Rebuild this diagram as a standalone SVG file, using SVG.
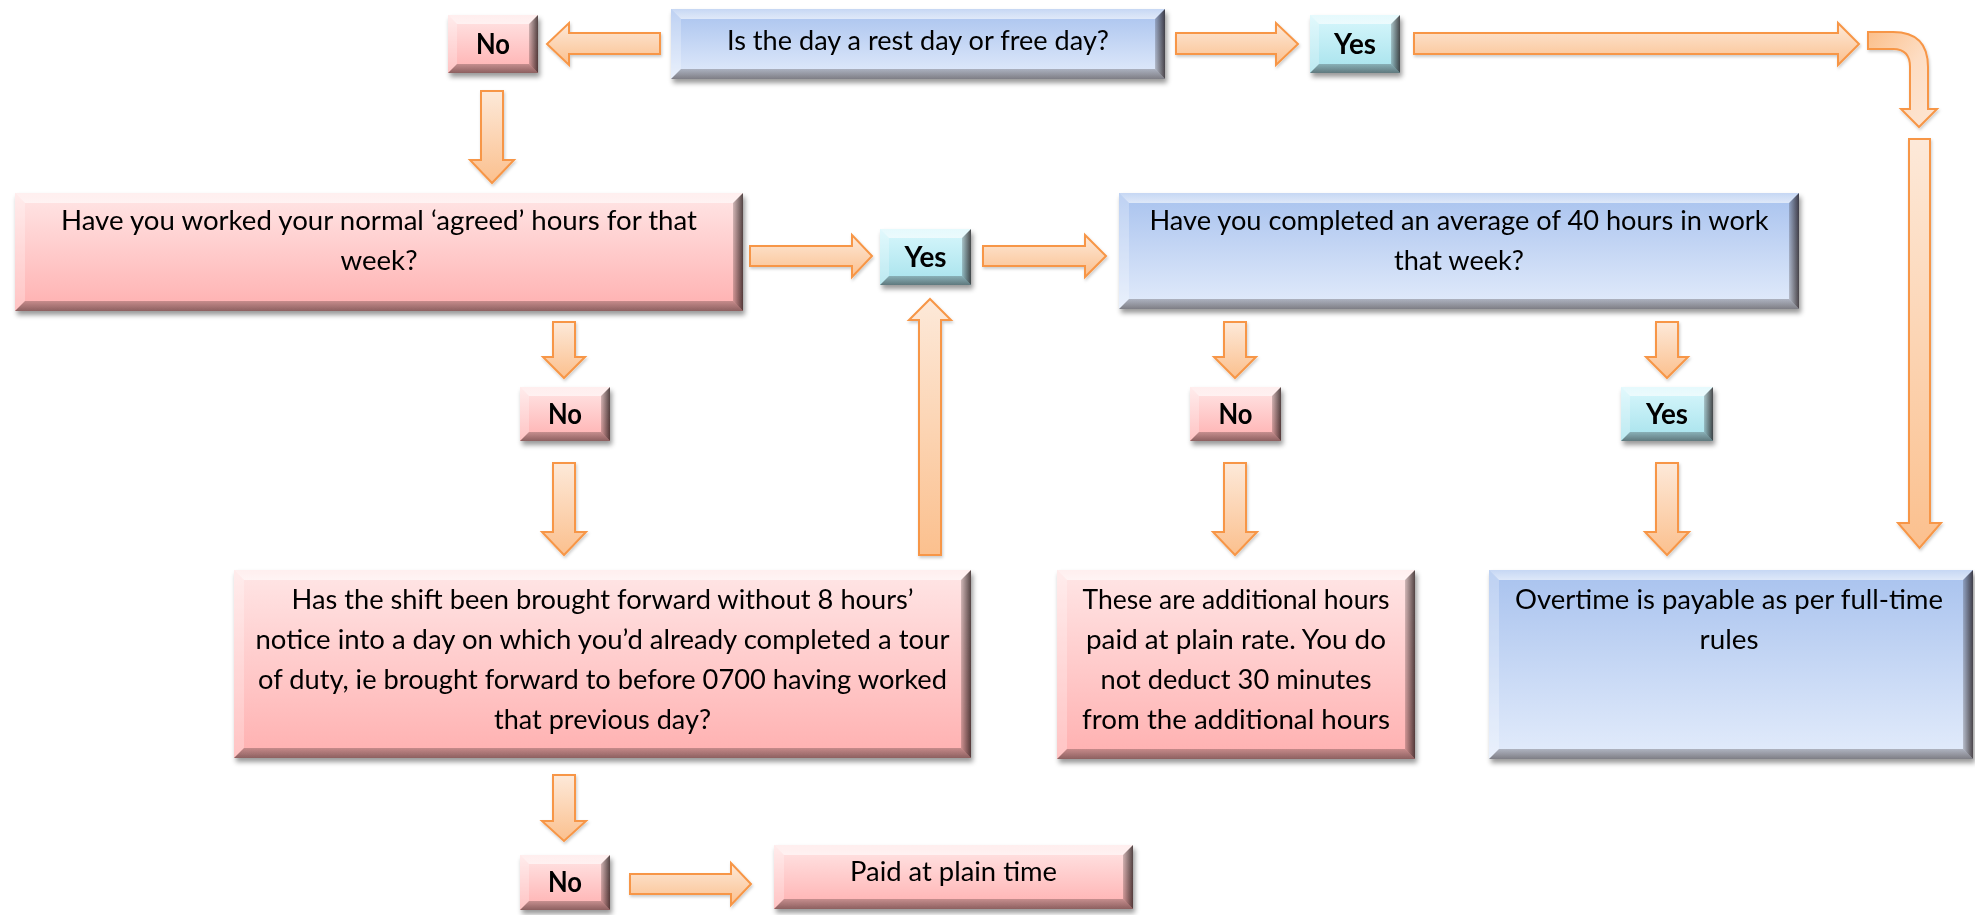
<svg xmlns="http://www.w3.org/2000/svg" width="1975" height="915" viewBox="0 0 1975 915">
<defs>
<linearGradient id="gPink" x1="0" y1="0" x2="0" y2="1"><stop offset="0" stop-color="#ffe6e6"/><stop offset="1" stop-color="#ffb0b0"/></linearGradient>
<linearGradient id="gBlue" x1="0" y1="0" x2="0" y2="1"><stop offset="0" stop-color="#a8c2ee"/><stop offset="1" stop-color="#e3ecfb"/></linearGradient>
<linearGradient id="gCyan" x1="0" y1="0" x2="0" y2="1"><stop offset="0" stop-color="#d8f7fc"/><stop offset="1" stop-color="#a6e2ec"/></linearGradient>
<linearGradient id="gArrow" x1="0" y1="0" x2="0" y2="1"><stop offset="0" stop-color="#fde9d9"/><stop offset="1" stop-color="#fbc08e"/></linearGradient>
<linearGradient id="gBent" x1="0" y1="0" x2="1" y2="1"><stop offset="0" stop-color="#fbbf8b"/><stop offset="0.5" stop-color="#fdddc3"/><stop offset="1" stop-color="#fde6d4"/></linearGradient>
<linearGradient id="gR" x1="0" y1="0" x2="1" y2="0"><stop offset="0" stop-color="#1a1010" stop-opacity="0.2"/><stop offset="1" stop-color="#1a1010" stop-opacity="0.75"/></linearGradient>
<linearGradient id="gB" x1="0" y1="0" x2="0" y2="1"><stop offset="0" stop-color="#1a1010" stop-opacity="0.25"/><stop offset="1" stop-color="#1a1010" stop-opacity="0.5"/></linearGradient>
<linearGradient id="gT" x1="0" y1="0" x2="0" y2="1"><stop offset="0" stop-color="#fff" stop-opacity="0.35"/><stop offset="1" stop-color="#fff" stop-opacity="0.6"/></linearGradient>
<filter id="sh" x="-5%" y="-10%" width="115%" height="135%"><feDropShadow dx="2" dy="4" stdDeviation="2.5" flood-color="#000" flood-opacity="0.4"/></filter>
<filter id="ash" x="-10%" y="-10%" width="130%" height="140%"><feDropShadow dx="1" dy="2" stdDeviation="1.5" flood-color="#000" flood-opacity="0.2"/></filter>
</defs>
<style>
.pink{fill:url(#gPink)}
.blue{fill:url(#gBlue)}
.cyan{fill:url(#gCyan)}
.ft{fill:url(#gT)}
.fl{fill:#fff;fill-opacity:.25}
.fr{fill:url(#gR)}
.fb{fill:url(#gB)}
.box{filter:url(#sh)}
.t{font-family:Lato,"Liberation Sans",sans-serif;font-size:27px;fill:#000;text-anchor:middle}
.b{font-family:Lato,"Liberation Sans",sans-serif;font-size:28px;font-weight:700;fill:#000;text-anchor:middle}
.arr{fill:url(#gArrow);stroke:#f79646;stroke-width:2;stroke-linejoin:miter;filter:url(#ash)}
.bent{fill:url(#gBent)}
</style>

<g id="connectors">
<path class="arr" d="M660,33 L569,33 L569,23 L547,44 L569,65 L569,54 L660,54 Z"/>
<path class="arr" d="M1176,33 L1276,33 L1276,23 L1298,44 L1276,65 L1276,54 L1176,54 Z"/>
<path class="arr" d="M1414,33 L1838,33 L1838,23 L1859,44 L1838,65 L1838,54 L1414,54 Z"/>
<path class="arr bent" d="M1868,32 L1893,32 Q1928,32 1928,67 L1928,109 L1937,109 L1919,127 L1901,109 L1910,109 L1910,67 Q1910,49 1893,49 L1868,49 Z"/>
<path class="arr" d="M1909,139 L1930,139 L1930,523 L1941,523 L1919.5,548 L1898,523 L1909,523 Z"/>
<path class="arr" d="M481,91 L503,91 L503,160 L514,160 L492,183 L470,160 L481,160 Z"/>
<path class="arr" d="M750,246 L852,246 L852,235 L872,256 L852,277 L852,266 L750,266 Z"/>
<path class="arr" d="M983,246 L1085,246 L1085,235 L1106,256 L1085,277 L1085,266 L983,266 Z"/>
<path class="arr" d="M553,322 L575,322 L575,357 L585,357 L564,378 L543,357 L553,357 Z"/>
<path class="arr" d="M553,463 L575,463 L575,532 L586,532 L564,555 L542,532 L553,532 Z"/>
<path class="arr" d="M919,555 L941,555 L941,320 L951,320 L930,299 L909,320 L919,320 Z"/>
<path class="arr" d="M1224,322 L1246,322 L1246,357 L1256,357 L1235,378 L1214,357 L1224,357 Z"/>
<path class="arr" d="M1656,322 L1678,322 L1678,357 L1688,357 L1667,378 L1646,357 L1656,357 Z"/>
<path class="arr" d="M1224,463 L1246,463 L1246,532 L1257,532 L1235,555 L1213,532 L1224,532 Z"/>
<path class="arr" d="M1656,463 L1678,463 L1678,532 L1689,532 L1667,555 L1645,532 L1656,532 Z"/>
<path class="arr" d="M553,775 L575,775 L575,821 L586,821 L564,841 L542,821 L553,821 Z"/>
<path class="arr" d="M630,874 L731,874 L731,863 L751,884 L731,905 L731,894 L630,894 Z"/>
</g>

<g id="no-top" class="box">
<rect class="pink" x="448" y="15" width="90" height="58"/>
<polygon class="ft" points="448,15 538,15 529,24 457,24"/>
<polygon class="fl" points="448,15 457,24 457,64 448,73"/>
<polygon class="fr" points="538,15 538,73 529,64 529,24"/>
<polygon class="fb" points="448,73 457,64 529,64 538,73"/>
<text class="b" x="493" y="54" textLength="34" lengthAdjust="spacingAndGlyphs">No</text>
</g>

<g id="q-rest-day" class="box">
<rect class="blue" x="671" y="9" width="494" height="70"/>
<polygon class="ft" points="671,9 1165,9 1155,19 681,19"/>
<polygon class="fl" points="671,9 681,19 681,69 671,79"/>
<polygon class="fr" points="1165,9 1165,79 1155,69 1155,19"/>
<polygon class="fb" points="671,79 681,69 1155,69 1165,79"/>
<text class="t" x="918" y="50" textLength="382" lengthAdjust="spacingAndGlyphs">Is the day a rest day or free day?</text>
</g>

<g id="yes-top" class="box">
<rect class="cyan" x="1310" y="15" width="90" height="58"/>
<polygon class="ft" points="1310,15 1400,15 1391,24 1319,24"/>
<polygon class="fl" points="1310,15 1319,24 1319,64 1310,73"/>
<polygon class="fr" points="1400,15 1400,73 1391,64 1391,24"/>
<polygon class="fb" points="1310,73 1319,64 1391,64 1400,73"/>
<text class="b" x="1355" y="54" textLength="42" lengthAdjust="spacingAndGlyphs">Yes</text>
</g>

<g id="q-agreed-hours" class="box">
<rect class="pink" x="15" y="193" width="728" height="118"/>
<polygon class="ft" points="15,193 743,193 733,203 25,203"/>
<polygon class="fl" points="15,193 25,203 25,301 15,311"/>
<polygon class="fr" points="743,193 743,311 733,301 733,203"/>
<polygon class="fb" points="15,311 25,301 733,301 743,311"/>
<text class="t" x="379" y="230" textLength="636" lengthAdjust="spacingAndGlyphs">Have you worked your normal ‘agreed’ hours for that</text>
<text class="t" x="379" y="270" textLength="77" lengthAdjust="spacingAndGlyphs">week?</text>
</g>

<g id="yes-mid" class="box">
<rect class="cyan" x="880" y="229" width="91" height="56"/>
<polygon class="ft" points="880,229 971,229 962,238 889,238"/>
<polygon class="fl" points="880,229 889,238 889,276 880,285"/>
<polygon class="fr" points="971,229 971,285 962,276 962,238"/>
<polygon class="fb" points="880,285 889,276 962,276 971,285"/>
<text class="b" x="925.5" y="267" textLength="42" lengthAdjust="spacingAndGlyphs">Yes</text>
</g>

<g id="q-average-40" class="box">
<rect class="blue" x="1119" y="193" width="680" height="116"/>
<polygon class="ft" points="1119,193 1799,193 1789,203 1129,203"/>
<polygon class="fl" points="1119,193 1129,203 1129,299 1119,309"/>
<polygon class="fr" points="1799,193 1799,309 1789,299 1789,203"/>
<polygon class="fb" points="1119,309 1129,299 1789,299 1799,309"/>
<text class="t" x="1459" y="230" textLength="619" lengthAdjust="spacingAndGlyphs">Have you completed an average of 40 hours in work</text>
<text class="t" x="1459" y="270" textLength="130" lengthAdjust="spacingAndGlyphs">that week?</text>
</g>

<g id="no-mid-left" class="box">
<rect class="pink" x="520" y="387" width="90" height="54"/>
<polygon class="ft" points="520,387 610,387 601,396 529,396"/>
<polygon class="fl" points="520,387 529,396 529,432 520,441"/>
<polygon class="fr" points="610,387 610,441 601,432 601,396"/>
<polygon class="fb" points="520,441 529,432 601,432 610,441"/>
<text class="b" x="565" y="424" textLength="34" lengthAdjust="spacingAndGlyphs">No</text>
</g>

<g id="no-mid-right" class="box">
<rect class="pink" x="1190" y="387" width="91" height="54"/>
<polygon class="ft" points="1190,387 1281,387 1272,396 1199,396"/>
<polygon class="fl" points="1190,387 1199,396 1199,432 1190,441"/>
<polygon class="fr" points="1281,387 1281,441 1272,432 1272,396"/>
<polygon class="fb" points="1190,441 1199,432 1272,432 1281,441"/>
<text class="b" x="1235.5" y="424" textLength="34" lengthAdjust="spacingAndGlyphs">No</text>
</g>

<g id="yes-mid-right" class="box">
<rect class="cyan" x="1621" y="387" width="92" height="54"/>
<polygon class="ft" points="1621,387 1713,387 1704,396 1630,396"/>
<polygon class="fl" points="1621,387 1630,396 1630,432 1621,441"/>
<polygon class="fr" points="1713,387 1713,441 1704,432 1704,396"/>
<polygon class="fb" points="1621,441 1630,432 1704,432 1713,441"/>
<text class="b" x="1667" y="424" textLength="42" lengthAdjust="spacingAndGlyphs">Yes</text>
</g>

<g id="q-shift-forward" class="box">
<rect class="pink" x="234" y="570" width="737" height="188"/>
<polygon class="ft" points="234,570 971,570 961,580 244,580"/>
<polygon class="fl" points="234,570 244,580 244,748 234,758"/>
<polygon class="fr" points="971,570 971,758 961,748 961,580"/>
<polygon class="fb" points="234,758 244,748 961,748 971,758"/>
<text class="t" x="602.5" y="609" textLength="622" lengthAdjust="spacingAndGlyphs">Has the shift been brought forward without 8 hours’</text>
<text class="t" x="602.5" y="649" textLength="694" lengthAdjust="spacingAndGlyphs">notice into a day on which you’d already completed a tour</text>
<text class="t" x="602.5" y="689" textLength="689" lengthAdjust="spacingAndGlyphs">of duty, ie brought forward to before 0700 having worked</text>
<text class="t" x="602.5" y="729" textLength="217" lengthAdjust="spacingAndGlyphs">that previous day?</text>
</g>

<g id="r-additional-hours" class="box">
<rect class="pink" x="1057" y="570" width="358" height="189"/>
<polygon class="ft" points="1057,570 1415,570 1405,580 1067,580"/>
<polygon class="fl" points="1057,570 1067,580 1067,749 1057,759"/>
<polygon class="fr" points="1415,570 1415,759 1405,749 1405,580"/>
<polygon class="fb" points="1057,759 1067,749 1405,749 1415,759"/>
<text class="t" x="1236" y="609" textLength="307" lengthAdjust="spacingAndGlyphs">These are additional hours</text>
<text class="t" x="1236" y="649" textLength="300" lengthAdjust="spacingAndGlyphs">paid at plain rate. You do</text>
<text class="t" x="1236" y="689" textLength="271" lengthAdjust="spacingAndGlyphs">not deduct 30 minutes</text>
<text class="t" x="1236" y="729" textLength="308" lengthAdjust="spacingAndGlyphs">from the additional hours</text>
</g>

<g id="r-overtime" class="box">
<rect class="blue" x="1489" y="570" width="484" height="189"/>
<polygon class="ft" points="1489,570 1973,570 1963,580 1499,580"/>
<polygon class="fl" points="1489,570 1499,580 1499,749 1489,759"/>
<polygon class="fr" points="1973,570 1973,759 1963,749 1963,580"/>
<polygon class="fb" points="1489,759 1499,749 1963,749 1973,759"/>
<text class="t" x="1729" y="609" textLength="428" lengthAdjust="spacingAndGlyphs">Overtime is payable as per full-time</text>
<text class="t" x="1729" y="649" textLength="59" lengthAdjust="spacingAndGlyphs">rules</text>
</g>

<g id="no-bottom" class="box">
<rect class="pink" x="520" y="855" width="90" height="55"/>
<polygon class="ft" points="520,855 610,855 601,864 529,864"/>
<polygon class="fl" points="520,855 529,864 529,901 520,910"/>
<polygon class="fr" points="610,855 610,910 601,901 601,864"/>
<polygon class="fb" points="520,910 529,901 601,901 610,910"/>
<text class="b" x="565" y="892" textLength="34" lengthAdjust="spacingAndGlyphs">No</text>
</g>

<g id="r-plain-time" class="box">
<rect class="pink" x="774" y="845" width="359" height="64"/>
<polygon class="ft" points="774,845 1133,845 1123,855 784,855"/>
<polygon class="fl" points="774,845 784,855 784,899 774,909"/>
<polygon class="fr" points="1133,845 1133,909 1123,899 1123,855"/>
<polygon class="fb" points="774,909 784,899 1123,899 1133,909"/>
<text class="t" x="953.5" y="881" textLength="207" lengthAdjust="spacingAndGlyphs">Paid at plain time</text>
</g>
</svg>
